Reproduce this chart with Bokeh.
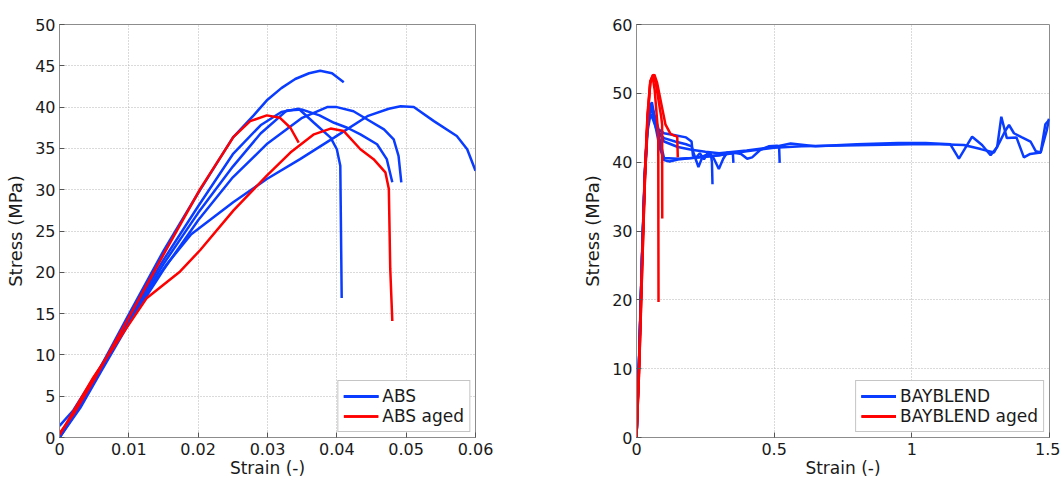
from bokeh.plotting import figure
from bokeh.layouts import row
from bokeh.models import Range1d, FixedTicker
from bokeh.embed import file_html
from bokeh.resources import INLINE

# ---------------- ABS (left) ----------------
abs_x_ticks = [0, 0.01, 0.02, 0.03, 0.04, 0.05, 0.06]
abs_x_labels = ["0", "0.01", "0.02", "0.03", "0.04", "0.05", "0.06"]
abs_y_ticks = [0, 5, 10, 15, 20, 25, 30, 35, 40, 45, 50]

abs1_strain = [0, 0.002, 0.005, 0.01, 0.015, 0.02, 0.025, 0.028, 0.030, 0.032, 0.034, 0.036, 0.0376, 0.0393, 0.041]
abs1_stress = [0.3, 2.7, 7.1, 14.9, 22.6, 29.6, 36.3, 39.0, 40.9, 42.3, 43.4, 44.1, 44.4, 44.1, 43.0]

abs2_strain = [0, 0.003, 0.006, 0.01, 0.015, 0.02, 0.025, 0.029, 0.032, 0.0345, 0.0367, 0.0391, 0.0400, 0.0405, 0.0406, 0.0407]
abs2_stress = [0.0, 4.0, 8.5, 14.5, 21.5, 28.0, 34.3, 37.8, 39.4, 39.8, 38.1, 36.3, 34.9, 32.9, 25.0, 16.9]

abs3_strain = [0, 0.003, 0.006, 0.01, 0.015, 0.02, 0.025, 0.029, 0.0328, 0.035, 0.0375, 0.0396, 0.0415, 0.0434, 0.0458, 0.0472, 0.0480]
abs3_stress = [0.0, 3.8, 8.2, 14.2, 21.0, 27.2, 32.8, 36.8, 39.6, 39.7, 39.0, 38.1, 37.5, 36.7, 35.5, 33.7, 30.9]

abs4_strain = [0, 0.003, 0.006, 0.01, 0.015, 0.02, 0.025, 0.03, 0.035, 0.0386, 0.040, 0.0424, 0.0444, 0.0468, 0.0482, 0.0489, 0.0493]
abs4_stress = [0.0, 3.6, 8.0, 13.8, 20.3, 26.3, 31.5, 35.6, 38.7, 40.0, 40.0, 39.5, 38.5, 37.3, 36.1, 34.1, 30.9]

abs5_strain = [0, 0.002, 0.005, 0.0124, 0.0155, 0.0190, 0.0251, 0.0299, 0.0347, 0.0396, 0.0444, 0.0475, 0.0492, 0.0511, 0.054, 0.0573, 0.0588, 0.0600]
abs5_stress = [1.4, 3.3, 7.3, 17.3, 21.0, 24.6, 28.5, 31.3, 33.7, 36.3, 38.9, 39.8, 40.1, 40.0, 38.3, 36.5, 34.9, 32.3]

absaged1_strain = [0, 0.002, 0.005, 0.0097, 0.0155, 0.0203, 0.0251, 0.0275, 0.0299, 0.0318, 0.0333, 0.0345]
absaged1_stress = [0.5, 2.8, 7.0, 14.1, 22.9, 30.1, 36.4, 38.3, 39.0, 38.7, 37.5, 35.7]

absaged2_strain = [0, 0.0049, 0.0097, 0.0126, 0.015, 0.0174, 0.0203, 0.0251, 0.0299, 0.0333, 0.0367, 0.0391, 0.041, 0.0434, 0.0453, 0.047, 0.0475, 0.0477, 0.048]
absaged2_stress = [0.3, 7.3, 13.3, 16.9, 18.5, 20.1, 22.7, 27.5, 31.7, 34.5, 36.7, 37.4, 37.1, 34.9, 33.7, 32.1, 30.1, 20.5, 14.1]

# ---------------- BAYBLEND (right) ----------------
bay_x_ticks = [0, 0.5, 1, 1.5]
bay_x_labels = ["0", "0.5", "1", "1.5"]
bay_y_ticks = [0, 10, 20, 30, 40, 50, 60]

bay1_strain = [0, 0.01, 0.02, 0.03, 0.04, 0.05, 0.056, 0.065, 0.08, 0.1, 0.14, 0.18, 0.2, 0.205, 0.215, 0.23, 0.245, 0.26, 0.27, 0.274, 0.276]
bay1_stress = [0, 12, 26, 38, 45.5, 48.3, 48.7, 46.8, 44.8, 44.2, 43.9, 43.6, 43.0, 41.0, 40.6, 41.3, 40.4, 41.4, 41.2, 40.0, 36.8]

bay2_strain = [0, 0.01, 0.02, 0.03, 0.04, 0.051, 0.06, 0.075, 0.1, 0.14, 0.18, 0.2, 0.21, 0.225, 0.24, 0.26, 0.28, 0.299, 0.315, 0.329, 0.342, 0.350, 0.352]
bay2_stress = [0, 12, 26, 37.5, 44.5, 47.0, 46.2, 44.5, 43.5, 43.0, 42.6, 42.3, 41.0, 39.3, 40.8, 41.2, 40.6, 39.0, 40.5, 41.4, 41.3, 41.3, 39.9]

bay3_strain = [0, 0.01, 0.02, 0.03, 0.04, 0.05, 0.055, 0.07, 0.085, 0.1, 0.12, 0.15, 0.2, 0.25, 0.3, 0.35, 0.38, 0.402, 0.42, 0.45, 0.48, 0.51, 0.518, 0.52]
bay3_stress = [0, 12.5, 26.5, 38.5, 45.5, 48.0, 48.3, 45.0, 42.0, 40.3, 40.1, 40.4, 40.6, 40.8, 41.0, 41.4, 41.2, 40.5, 40.7, 41.8, 42.3, 42.4, 42.2, 39.9]

bay4_strain = [0, 0.01, 0.02, 0.03, 0.04, 0.05, 0.06, 0.08, 0.1, 0.15, 0.2, 0.25, 0.3, 0.4, 0.5, 0.56, 0.65, 0.8, 0.95, 1.05, 1.14, 1.171, 1.219, 1.255, 1.286, 1.31, 1.325, 1.345, 1.38, 1.407, 1.43, 1.468, 1.49, 1.498]
bay4_stress = [0, 12, 26, 38, 45, 47.8, 47.0, 44.5, 43.0, 42.2, 41.8, 41.5, 41.3, 41.7, 42.2, 42.7, 42.3, 42.6, 42.8, 42.8, 42.6, 40.5, 43.7, 42.5, 41.0, 42.2, 46.6, 43.5, 43.6, 40.7, 41.2, 41.4, 44.6, 46.3]

bay5_strain = [0, 0.01, 0.02, 0.03, 0.04, 0.05, 0.06, 0.08, 0.1, 0.15, 0.2, 0.3, 0.4, 0.5, 0.6, 0.7, 0.85, 1.0, 1.1, 1.189, 1.25, 1.298, 1.316, 1.34, 1.353, 1.371, 1.40, 1.431, 1.45, 1.468, 1.485, 1.5]
bay5_stress = [0, 12, 26, 38, 45.5, 48.2, 47.5, 44.0, 40.6, 40.5, 40.6, 41.0, 41.6, 42.1, 42.3, 42.4, 42.5, 42.6, 42.6, 42.5, 41.9, 41.4, 42.7, 44.6, 45.4, 44.2, 43.6, 43.0, 41.6, 41.4, 45.5, 46.2]

bayaged1_strain = [0, 0.01, 0.02, 0.03, 0.04, 0.05, 0.058, 0.066, 0.074, 0.079, 0.0795, 0.080]
bayaged1_stress = [0, 11, 25, 38, 47, 51.8, 52.5, 50.5, 46.5, 44.0, 30.0, 19.7]

bayaged2_strain = [0, 0.01, 0.02, 0.03, 0.04, 0.05, 0.06, 0.07, 0.08, 0.09, 0.093, 0.0935]
bayaged2_stress = [0, 10.5, 24, 37, 46.5, 51.5, 52.7, 51.5, 49.0, 46.5, 45.5, 31.8]

bayaged3_strain = [0, 0.01, 0.02, 0.03, 0.04, 0.05, 0.06, 0.065, 0.075, 0.09, 0.105, 0.1235, 0.135, 0.148, 0.150]
bayaged3_stress = [0, 10, 23.5, 36.5, 46, 51.5, 52.6, 52.7, 51.5, 48.5, 45.5, 44.1, 43.9, 43.7, 40.7]

BLUE = "#0a3cff"
RED = "#ff0000"
FONT = "DejaVu Sans"
GRAY = "#8c8c8c"


def make_fig(width, left, right, top, xr, yr, xticks, xlabels, yticks):
    p = figure(width=width, height=482, x_range=Range1d(*xr), y_range=Range1d(*yr),
               output_backend="svg", toolbar_location=None,
               min_border_left=left, min_border_right=right,
               min_border_top=top, min_border_bottom=45)
    p.outline_line_color = GRAY
    p.outline_line_width = 1
    p.xaxis.ticker = FixedTicker(ticks=xticks)
    p.xaxis.major_label_overrides = {t: l for t, l in zip(xticks, xlabels)}
    p.yaxis.ticker = FixedTicker(ticks=yticks)
    for ax in (p.xaxis[0], p.yaxis[0]):
        ax.major_tick_in = 5
        ax.major_tick_out = 0
        ax.minor_tick_line_color = None
        ax.axis_line_color = GRAY
        ax.major_tick_line_color = "#555555"
        ax.major_label_text_font = FONT
        ax.major_label_text_font_size = "16px"
        ax.major_label_text_color = "#1a1a1a"
        ax.axis_label_text_font = FONT
        ax.axis_label_text_font_size = "17px"
        ax.axis_label_text_font_style = "normal"
        ax.axis_label_text_color = "#1a1a1a"
    p.yaxis.axis_label_text_font_size = "18px"
    p.xaxis.major_label_standoff = 5
    p.xaxis.axis_label_standoff = 0
    p.yaxis.major_label_standoff = 4
    p.yaxis.axis_label_standoff = 6
    p.xaxis.axis_label = "Strain (-)"
    p.yaxis.axis_label = "Stress (MPa)"
    p.xgrid.ticker = FixedTicker(ticks=xticks)
    p.ygrid.ticker = FixedTicker(ticks=yticks)
    for g in (p.xgrid[0], p.ygrid[0]):
        g.grid_line_color = "#b4b4b4"
        g.grid_line_dash = "1 2"
        g.grid_line_width = 1
    return p


p1 = make_fig(560, 59, 85, 21, (0, 0.06), (0, 50), abs_x_ticks, abs_x_labels, abs_y_ticks)
for xs, ys in [(abs1_strain, abs1_stress), (abs2_strain, abs2_stress), (abs3_strain, abs3_stress),
               (abs4_strain, abs4_stress), (abs5_strain, abs5_stress)]:
    p1.line(xs, ys, line_color=BLUE, line_width=2.5, legend_label="ABS")
for xs, ys in [(absaged1_strain, absaged1_stress), (absaged2_strain, absaged2_stress)]:
    p1.line(xs, ys, line_color=RED, line_width=2.5, legend_label="ABS aged")

p2 = make_fig(500, 76, 11, 24, (0, 1.5), (0, 60), bay_x_ticks, bay_x_labels, bay_y_ticks)
for xs, ys in [(bay1_strain, bay1_stress), (bay2_strain, bay2_stress), (bay3_strain, bay3_stress),
               (bay4_strain, bay4_stress), (bay5_strain, bay5_stress)]:
    p2.line(xs, ys, line_color=BLUE, line_width=2.5, legend_label="BAYBLEND")
for xs, ys in [(bayaged1_strain, bayaged1_stress), (bayaged2_strain, bayaged2_stress),
               (bayaged3_strain, bayaged3_stress)]:
    p2.line(xs, ys, line_color=RED, line_width=2.5, legend_label="BAYBLEND aged")

for p in (p1, p2):
    lg = p.legend[0]
    lg.location = "bottom_right"
    lg.margin = 5
    lg.padding = 5
    lg.spacing = 0
    lg.glyph_width = 35
    lg.glyph_height = 20
    lg.label_height = 20
    lg.label_standoff = 4
    lg.label_text_font = FONT
    lg.label_text_font_size = "17px"
    lg.label_text_color = "#1a1a1a"
    lg.border_line_color = GRAY
    lg.border_line_width = 1
    lg.background_fill_alpha = 1

layout = row(p1, p2)
open("out.html", "w").write(file_html(layout, INLINE))
